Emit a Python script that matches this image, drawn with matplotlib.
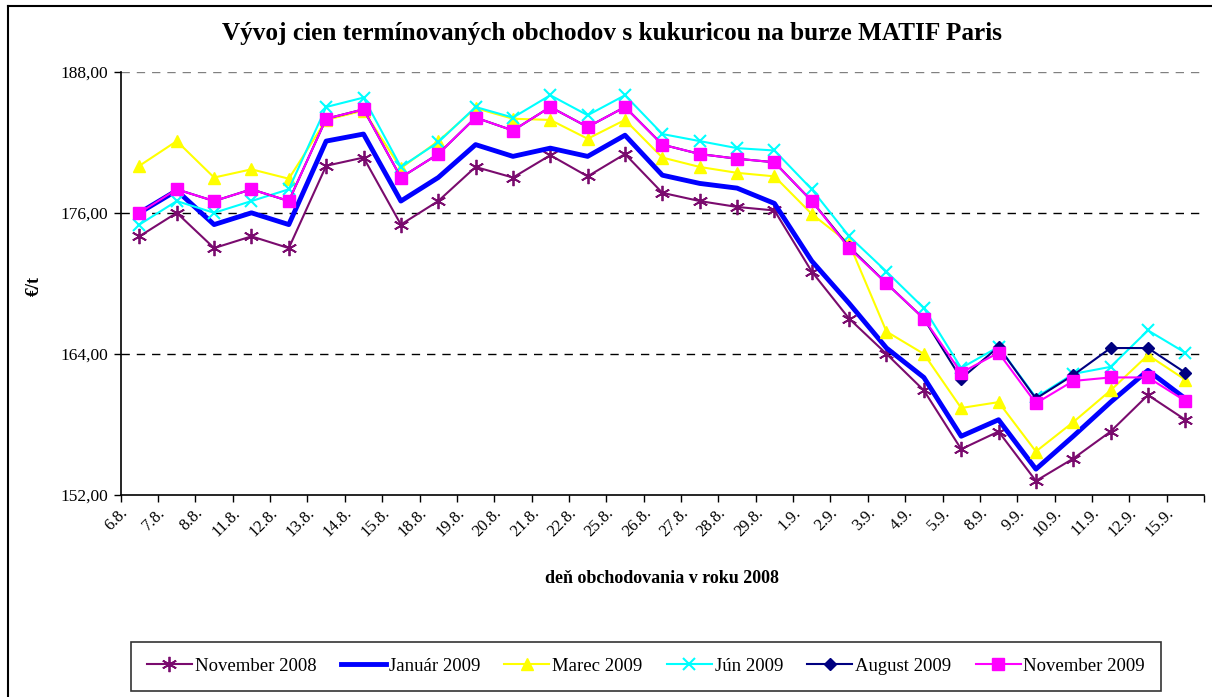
import numpy as np
import matplotlib
matplotlib.use("Agg")
import matplotlib.pyplot as plt
import matplotlib.transforms as mtransforms
from matplotlib.lines import Line2D

plt.rcParams['font.family'] = ['Liberation Serif', 'DejaVu Serif']

days = ["6.8.", "7.8.", "8.8.", "11.8.", "12.8.", "13.8.", "14.8.", "15.8.", "18.8.",
        "19.8.", "20.8.", "21.8.", "22.8.", "25.8.", "26.8.", "27.8.", "28.8.", "29.8.",
        "1.9.", "2.9.", "3.9.", "4.9.", "5.9.", "8.9.", "9.9.", "10.9.", "11.9.", "12.9.", "15.9."]

nov_2008 = [174.0, 176.0, 173.0, 174.0, 173.0, 180.0, 180.7, 175.0, 177.0, 179.9,
            179.0, 180.9, 179.1, 181.0, 177.7, 177.0, 176.5, 176.2, 171.0, 167.0,
            164.0, 160.9, 155.9, 157.4, 153.2, 155.1, 157.4, 160.5, 158.4]
jan_2009 = [176.0, 177.9, 175.0, 176.0, 175.0, 182.1, 182.7, 177.0, 179.0, 181.8,
            180.8, 181.5, 180.8, 182.6, 179.2, 178.5, 178.1, 176.8, 171.9, 168.3,
            164.5, 162.0, 157.0, 158.4, 154.2, 157.0, 159.9, 162.6, 160.2]
mar_2009 = [180.0, 182.1, 179.0, 179.7, 178.9, 183.9, 184.7, 179.8, 182.1, 184.9,
            184.0, 183.9, 182.3, 183.9, 180.7, 179.9, 179.4, 179.1, 175.9, 173.4,
            165.9, 164.0, 159.4, 159.9, 155.7, 158.2, 160.9, 163.9, 161.8]
jun_2009 = [175.0, 177.0, 176.0, 177.0, 178.0, 185.0, 185.8, 179.9, 182.0, 185.0,
            184.1, 186.0, 184.3, 186.0, 182.7, 182.1, 181.5, 181.3, 178.0, 174.0,
            171.0, 167.9, 162.8, 164.6, 160.3, 162.3, 162.9, 166.0, 164.1]
aug_2009 = [176.0, 178.0, 177.0, 178.0, 177.0, 184.0, 184.8, 179.0, 181.0, 184.1,
            183.0, 185.0, 183.3, 185.0, 181.8, 181.0, 180.6, 180.3, 177.0, 173.1,
            170.0, 167.0, 161.9, 164.6, 160.2, 162.2, 164.5, 164.5, 162.4]
nov_2009 = [176.0, 178.0, 177.0, 178.0, 177.0, 184.0, 184.8, 179.0, 181.0, 184.1,
            183.0, 185.0, 183.3, 185.0, 181.8, 181.0, 180.6, 180.3, 177.0, 173.0,
            170.0, 167.0, 162.4, 164.1, 159.8, 161.7, 162.0, 162.0, 160.0]

series = [
    ("November 2008", nov_2008, dict(color="#7A0B6E", lw=1.5, marker=(6, 2, 0), ms=11, mew=1.3)),
    ("Január 2009", jan_2009, dict(color="#0000FF", lw=3.5, marker=None)),
    ("Marec 2009", mar_2009, dict(color="#FFFF00", lw=1.5, marker="^", ms=9)),
    ("Jún 2009", jun_2009, dict(color="#00FFFF", lw=1.5, marker="x", ms=9, mew=1.5)),
    ("August 2009", aug_2009, dict(color="#000080", lw=1.5, marker="D", ms=6)),
    ("November 2009", nov_2009, dict(color="#FF00FF", lw=1.5, marker="s", ms=8)),
]

fig = plt.figure(figsize=(12.12, 6.97), dpi=100)
ax = fig.add_axes([0.0996, 0.2898, 0.8938, 0.6073])

x = np.arange(len(days))
handles = []
for name, vals, st in series:
    st = dict(st)
    mk = st.pop("marker")
    h, = ax.plot(x, vals, marker=mk, mec=st["color"], mfc=st["color"], label=name, **st)
    handles.append(h)

ax.set_xlim(-0.5, len(days) - 0.5)
ax.set_ylim(152, 188)
ax.set_yticks([152, 164, 176, 188])
ax.set_yticklabels(["152,00", "164,00", "176,00", "188,00"], fontsize=12.5)
for yv, c in [(164, "black"), (176, "black"), (188, "#808080")]:
    ax.axhline(yv, color=c, lw=1, ls=(0, (6, 5)), zorder=0)

ax.set_xticks(np.arange(len(days) + 1) - 0.5)
ax.set_xticklabels([])
ax.set_xticks(x, minor=True)
ax.set_xticklabels(days, minor=True, rotation=45, ha="right", va="top", fontsize=12)
ax.tick_params(axis="x", which="major", length=5, direction="out", width=1)
ax.tick_params(axis="x", which="minor", length=0, pad=7)
ax.tick_params(axis="y", length=5, direction="out", width=1, pad=4)
offset = mtransforms.ScaledTranslation(-8 / 100, 0, fig.dpi_scale_trans)
for lab in ax.get_xticklabels(minor=True):
    lab.set_transform(lab.get_transform() + offset)

for s in ["top", "right"]:
    ax.spines[s].set_visible(False)
for s in ["left", "bottom"]:
    ax.spines[s].set_linewidth(1.2)

ax.set_xlabel("deň obchodovania v roku 2008", fontsize=13, fontweight="bold", labelpad=22)
fig.text(0.028, 0.59, "€/t", rotation=90, fontsize=13, fontweight="bold", ha="center", va="center")
fig.text(0.505, 0.952, "Vývoj cien termínovaných obchodov s kukuricou na burze MATIF Paris",
         fontsize=18.2, fontweight="bold", ha="center", va="center")

# outer chart frame (only left and top visible in the crop)
fig.add_artist(Line2D([0.007, 0.007], [0.0, 0.992], color="black", lw=1.5, transform=fig.transFigure))
fig.add_artist(Line2D([0.007, 1.0], [0.992, 0.992], color="black", lw=1.5, transform=fig.transFigure))

leg = fig.legend(handles=handles, loc="center", bbox_to_anchor=(0.533, 0.044), ncol=6,
                 fontsize=13.5, frameon=True, fancybox=False, edgecolor="black",
                 handlelength=2.4, handletextpad=0.15, columnspacing=1.3, borderpad=0.85)
leg.get_frame().set_linewidth(1.2)

fig.savefig("out.png", dpi=100)
